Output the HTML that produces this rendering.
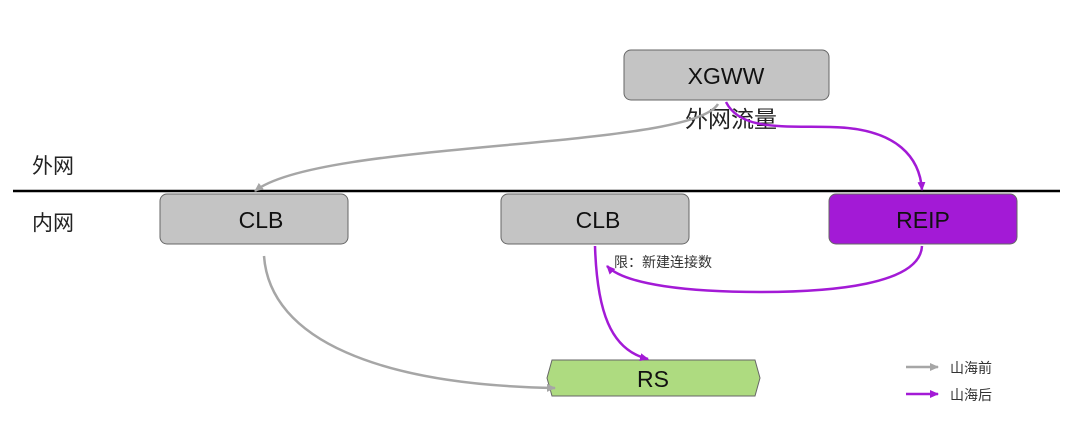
<!DOCTYPE html>
<html><head><meta charset="utf-8"><style>body{margin:0;background:#fff}svg{display:block}</style></head><body>
<svg width="1080" height="423" viewBox="0 0 1080 423" xmlns="http://www.w3.org/2000/svg" font-family="Liberation Sans, Noto Sans CJK SC, sans-serif">
<defs>
<marker id="ag" markerWidth="10" markerHeight="8" refX="8" refY="4" orient="auto" markerUnits="userSpaceOnUse"><path d="M0,0 L9,4 L0,8 Z" fill="#a6a6a6"/></marker>
<marker id="ap" markerWidth="10" markerHeight="8" refX="8" refY="4" orient="auto" markerUnits="userSpaceOnUse"><path d="M0,0 L9,4 L0,8 Z" fill="#a31ad6"/></marker>
</defs>
<line x1="13" y1="191" x2="1060" y2="191" stroke="#000" stroke-width="2.5"/>
<text x="32" y="173" font-size="21" fill="#222">外网</text>
<text x="32" y="230" font-size="21" fill="#222">内网</text>
<rect x="624" y="50" width="205" height="50" rx="7" fill="#c4c4c4" stroke="#666" stroke-width="1"/>
<text x="726" y="84" font-size="23" text-anchor="middle" fill="#111">XGWW</text>
<text x="731" y="127" font-size="23" text-anchor="middle" fill="#222">外网流量</text>
<rect x="160" y="194" width="188" height="50" rx="7" fill="#c4c4c4" stroke="#666"/>
<text x="261" y="228" font-size="23" text-anchor="middle" fill="#111">CLB</text>
<rect x="501" y="194" width="188" height="50" rx="7" fill="#c4c4c4" stroke="#666"/>
<text x="598" y="228" font-size="23" text-anchor="middle" fill="#111">CLB</text>
<rect x="829" y="194" width="188" height="50" rx="7" fill="#a31ad6" stroke="#666"/>
<text x="923" y="228" font-size="23" text-anchor="middle" fill="#111">REIP</text>
<polygon points="552,360 755,360 760,378 755,396 552,396 547,378" fill="#aedb80" stroke="#666"/>
<text x="653" y="387" font-size="23" text-anchor="middle" fill="#111">RS</text>
<text x="614" y="267" font-size="14" fill="#333">限：新建连接数</text>
<path d="M718 104 C690 150,320 140,255 191" fill="none" stroke="#a6a6a6" stroke-width="2.5" marker-end="url(#ag)"/>
<path d="M726 102 C740 130,780 126,830 127 C900 128,920 160,922 190" fill="none" stroke="#a31ad6" stroke-width="2.5" marker-end="url(#ap)"/>
<path d="M922 246 C920 285,830 292,760 292 C690 292,625 285,607 266" fill="none" stroke="#a31ad6" stroke-width="2.5" marker-end="url(#ap)"/>
<path d="M595 246 C597 310,610 350,648 359" fill="none" stroke="#a31ad6" stroke-width="2.5" marker-end="url(#ap)"/>
<path d="M264 256 C270 340,380 385,555 388" fill="none" stroke="#a6a6a6" stroke-width="2.5" marker-end="url(#ag)"/>
<line x1="906" y1="367" x2="938" y2="367" stroke="#a6a6a6" stroke-width="2.5" marker-end="url(#ag)"/>
<text x="950" y="373" font-size="14" fill="#333">山海前</text>
<line x1="906" y1="394" x2="938" y2="394" stroke="#a31ad6" stroke-width="2.5" marker-end="url(#ap)"/>
<text x="950" y="400" font-size="14" fill="#333">山海后</text>
</svg>
</body></html>
